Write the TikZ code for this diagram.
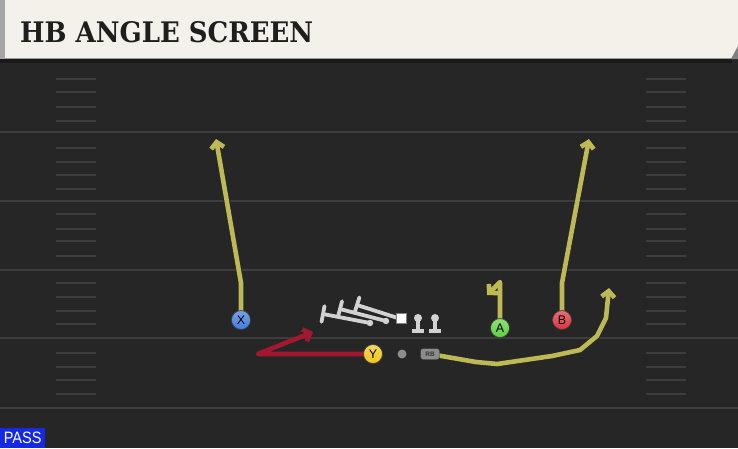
\documentclass[tikz,border=0pt]{standalone}
\usepackage{fontspec}
\usepackage{graphicx}
\setmainfont{DejaVu Serif}
\setsansfont{Liberation Sans}
\usetikzlibrary{arrows.meta,calc}
\definecolor{cream}{HTML}{F4F1EA}
\definecolor{titletext}{HTML}{1E1E1E}
\definecolor{fieldbg}{HTML}{262626}
\definecolor{yardline}{HTML}{3D3D3D}
\definecolor{routeol}{HTML}{BDB954}
\definecolor{routered}{HTML}{A3182F}
\definecolor{xblue}{HTML}{3E7BDF}
\definecolor{yyellow}{HTML}{F2C417}
\definecolor{agreen}{HTML}{5DD23A}
\definecolor{bred}{HTML}{E0323C}
\definecolor{blockgray}{HTML}{D2D2D2}
\definecolor{passblue}{HTML}{1428E6}
\definecolor{rbgray}{HTML}{8C8C8C}
\begin{document}
\begin{tikzpicture}[x=1pt,y=-1pt,
  yard/.style={draw=yardline, line width=2.4pt},
  hashmk/.style={draw=yardline, line width=1.8pt},
  routeout/.style={draw=black!85, line width=6.4pt, line join=round},
  routein/.style={draw=routeol, line width=4.6pt, line join=round},
  tipend/.style={-{Straight Barb[length=6pt,width=13pt]}},
  redroute/.style={draw=routered, line width=4.6pt, line join=round, -{Straight Barb[length=6pt,width=13pt]}},
  player/.style={circle, minimum size=19pt, inner sep=0pt, draw=black!75, line width=0.7pt,
     font=\sffamily\fontsize{12.5}{12.5}\selectfont, text=black},
  blockln/.style={draw=blockgray, line width=3.8pt}
]
\useasboundingbox (0,0) rectangle (738,448);
% background
\fill[fieldbg] (0,0) rectangle (738,448);
\fill[black!90] (0,59) rectangle (732,63);
\fill[cream] (0,0) rectangle (738,59);
\draw[black!40, line width=0.8pt] (0,58.6) -- (732,58.6);
\fill[black!35] (0,0) rectangle (5,59);
\fill[black!50] (731,59) -- (738,46) -- (738,59) -- cycle;
\node[anchor=west, inner sep=0pt, text=titletext] (title) at (20,32)
  {\resizebox{293pt}{21pt}{\bfseries HB ANGLE SCREEN}};
% yard lines
\foreach \y in {132,201,270,338,408} \draw[yard] (0,\y) -- (738,\y);
% hash marks
\foreach \y in {79,92,107,121,148,162,175,189,214,229,241,256,283,297,311,324,353,367,380,394}{
  \draw[hashmk] (56,\y) -- (96,\y);
  \draw[hashmk] (646,\y) -- (686,\y);
}
% player positions
\coordinate (pX) at (241,320);
\coordinate (pY) at (373,354);
\coordinate (pA) at (500,328);
\coordinate (pB) at (562,320);
\coordinate (pRB) at (430,354);
\coordinate (Xend) at (216,139);
\coordinate (Bend) at (589,139);
\coordinate (Aend) at (487,295);
\coordinate (RBend) at (609,288);
\coordinate (Yend) at (313,332);
% blockers
\foreach \sx/\sy/\ex/\ey in {370/323/323/314, 386/321/340/309, 401/319/357/305}{
  \coordinate (bs) at (\sx,\sy);
  \coordinate (be) at (\ex,\ey);
  \draw[blockln] (bs) -- (be);
  \draw[blockln, line cap=round] ($(be)!8pt!90:(bs)$) -- ($(be)!8pt!-90:(bs)$);
  \fill[blockgray] (bs) circle (3.2pt);
}
\foreach \x in {418,435}{
  \draw[blockln] (\x,318) -- (\x,331);
  \draw[blockln] (\x-6,331) -- (\x+6,331);
  \fill[blockgray] (\x,318) circle (4pt);
}
% routes
\foreach \s in {routeout,routein}{
  \draw[\s,tipend] (pX) -- (241,283) -- (Xend);
  \draw[\s,tipend] (pB) -- (562,283) -- (Bend);
  \draw[\s,tipend] (pA) -- (500,282) -- (Aend);
  \draw[\s,tipend] (pRB) -- (476,362) -- (497,364) -- (552,356) -- (580,350) -- (597,336) -- (606,318) -- (RBend);
}
\draw[redroute] (pY) -- (258,354) -- (Yend);
% players
\node[fill=white, draw=black!50, minimum size=10pt, inner sep=0pt] (C) at (401,318) {};
\node[circle, fill=rbgray, minimum size=9pt, inner sep=0pt] (ball) at (402,354) {};
\node[rounded corners=2.5pt, fill=rbgray, draw=black!80, minimum width=19pt, minimum height=11pt,
  inner sep=0pt, font=\sffamily\bfseries\fontsize{6.5}{6.5}\selectfont, text=black!80] (RB) at (pRB) {RB};
\node[player, top color=xblue!70!white, bottom color=xblue] (X) at (pX) {X};
\node[player, top color=yyellow!70!white, bottom color=yyellow] (Y) at (pY) {Y};
\node[player, top color=agreen!70!white, bottom color=agreen] (A) at (pA) {A};
\node[player, top color=bred!70!white, bottom color=bred] (B) at (pB) {B};
% pass label
\node[fill=passblue, anchor=south west, minimum width=45pt, minimum height=20pt, inner sep=0pt,
  text=white] (pass) at (0,448) {\scalebox{0.88}[1]{\sffamily\fontsize{16.5}{16.5}\selectfont PASS}};
\end{tikzpicture}
\end{document}
